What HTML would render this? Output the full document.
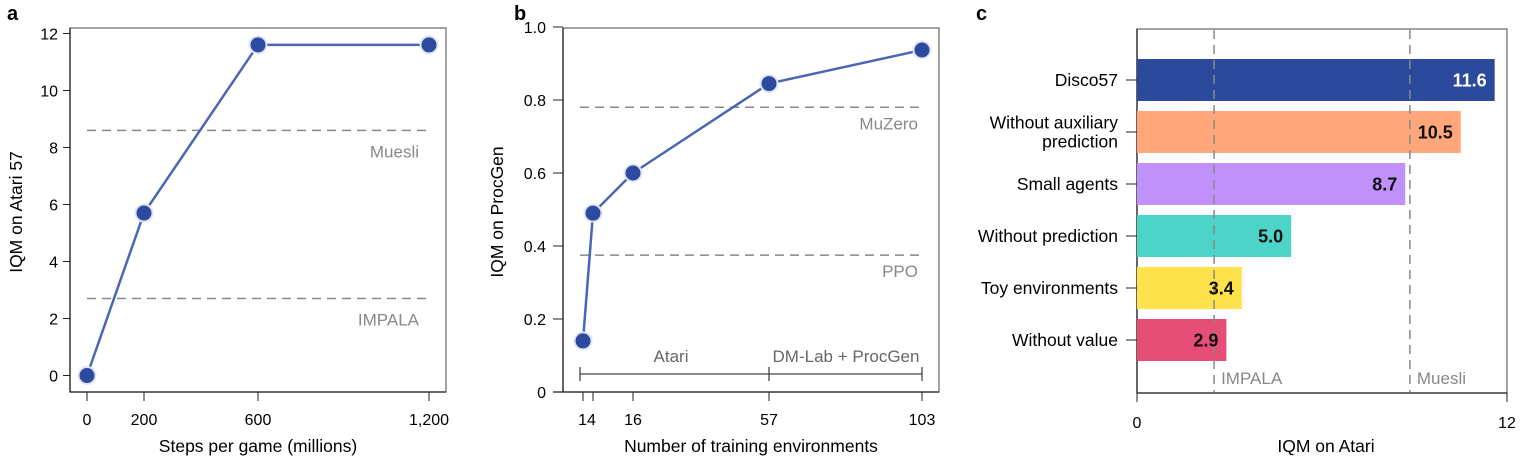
<!DOCTYPE html>
<html><head><meta charset="utf-8"><style>
body{margin:0;background:#fff;}
svg{display:block;font-family:"Liberation Sans",Arial,sans-serif;}
</style></head><body>
<svg id="chart" width="1536" height="464" viewBox="0 0 1536 464"></svg>
<script>
// Panel a data
const aSteps=[0,200,600,1200];
const aIQM=[0,5.7,11.6,11.6];
const aXTicks=[0,200,600,1200];
const aXTickLabels=["0","200","600","1,200"];
const aYTicks=[0,2,4,6,8,10,12];
const aBaselineNames=["Muesli","IMPALA"];
const aBaselineVals=[8.6,2.7];
// Panel b data
const bEnvs=[13.7,14.3,16,57,103];
const bIQM=[0.14,0.49,0.60,0.845,0.937];
const bXTicks=[13.7,14.3,16,57,103];
const bXTickLabels=["","","16","57","103"];
const bYTicks=[0,0.2,0.4,0.6,0.8,1.0];
const bYTickLabels=["0","0.2","0.4","0.6","0.8","1.0"];
const bBaselineNames=["MuZero","PPO"];
const bBaselineVals=[0.78,0.375];
// Panel c data
const cCats=["Disco57","Without auxiliary|prediction","Small agents","Without prediction","Toy environments","Without value"];
const cVals=[11.6,10.5,8.7,5.0,3.4,2.9];
const cColors=["#2c4a9c","#ffa67a","#c091fb","#4dd4c8","#fde24c","#e64e78"];
const cBaselineNames=["IMPALA","Muesli"];
const cBaselineVals=[2.5,8.85];

const NS="http://www.w3.org/2000/svg";
const svg=document.getElementById('chart');
function mk(tag,attrs,parent,text){const e=document.createElementNS(NS,tag);for(const k in attrs)e.setAttribute(k,attrs[k]);if(text!==undefined)e.textContent=text;(parent||svg).appendChild(e);return e;}
const LINE="#4a66b4",DOT="#2c4aa0",GRAY="#888";
const TICK=16, TITLE=17.5, BASE=17;

function frame(x0,y0,x1,y1,name){
  const g=mk('g',{});
  
  
  mk('rect',{x:x0,y:y0,width:x1-x0,height:y1-y0,fill:'none',stroke:'#666','stroke-width':1.2},g);
  mk('line',{x1:x0,y1:y0,x2:x0,y2:y1,stroke:'#222','stroke-width':1.3},g);
  mk('line',{x1:x0,y1:y1,x2:x1,y2:y1,stroke:'#222','stroke-width':1.3},g);
  return g;
}
function letter(x,y,t){const e=mk('text',{x:x,y:y,'font-size':20,'font-weight':'bold',fill:'#000'},svg,t);
  
  }

// ---------- Panel a ----------
letter(7,20,'a');
const ax=v=>87+v*0.285, ay=v=>375.5-v*28.5;
frame(70,28,446,392,'panel-a-frame');
aYTicks.forEach(t=>{mk('line',{x1:63,y1:ay(t),x2:70,y2:ay(t),stroke:'#222'});
  const e=mk('text',{x:58,y:ay(t)+6,'font-size':TICK,'text-anchor':'end'},svg,String(t));
  
  });
aXTicks.forEach((t,i)=>{mk('line',{x1:ax(t),y1:392,x2:ax(t),y2:401,stroke:'#222'});
  const e=mk('text',{x:ax(t),y:425,'font-size':TICK,'text-anchor':'middle'},svg,aXTickLabels[i]);
  
  });
aBaselineVals.forEach((v,i)=>{const l=mk('line',{x1:87,y1:ay(v),x2:427,y2:ay(v),stroke:GRAY,'stroke-width':1.5,'stroke-dasharray':'9,6'});
  
  
  const t=mk('text',{x:419,y:ay(v)+27,'font-size':BASE,'text-anchor':'end',fill:GRAY},svg,aBaselineNames[i]);
  
  });
{const p=mk('polyline',{points:aSteps.map((s,i)=>ax(s)+','+ay(aIQM[i])).join(' '),fill:'none',stroke:LINE,'stroke-width':2.5});
 
 }
aSteps.forEach((s,i)=>{mk('circle',{cx:ax(s),cy:ay(aIQM[i]),r:9.5,fill:'#dfe4f3'});
  const c=mk('circle',{cx:ax(s),cy:ay(aIQM[i]),r:7.5,fill:DOT});
  
  });
{const e=mk('text',{x:258,y:452,'font-size':TITLE,'text-anchor':'middle'},svg,'Steps per game (millions)');
 
 
 const f=mk('text',{x:0,y:0,'font-size':TITLE,'text-anchor':'middle',transform:'translate(22,212) rotate(-90)'},svg,'IQM on Atari 57');
 
 }

// ---------- Panel b ----------
letter(514,20,'b');
const bKnotD=[13.7,14.3,16,57,103], bKnotR=[583,593,633,769,922];
const bx=v=>{for(let i=0;i<bKnotD.length-1;i++){if(v<=bKnotD[i+1]||i===bKnotD.length-2){return bKnotR[i]+(v-bKnotD[i])/(bKnotD[i+1]-bKnotD[i])*(bKnotR[i+1]-bKnotR[i]);}}};
const by=v=>392-v*365;
frame(563,28,939,392,'panel-b-frame');
mk('line',{x1:553,y1:392,x2:563,y2:392,stroke:'#222','stroke-width':1.3});
bYTicks.forEach((t,i)=>{mk('line',{x1:553,y1:by(t),x2:563,y2:by(t),stroke:'#222'});
  const e=mk('text',{x:546,y:by(t)+6,'font-size':TICK,'text-anchor':'end'},svg,bYTickLabels[i]);
  
  });
bXTicks.forEach((t,i)=>{mk('line',{x1:bx(t),y1:392,x2:bx(t),y2:401,stroke:'#222'});
  if(bXTickLabels[i]){const e=mk('text',{x:bx(t),y:425,'font-size':TICK,'text-anchor':'middle'},svg,bXTickLabels[i]);
  
  }});
{const e=mk('text',{x:587,y:425,'font-size':TICK,'text-anchor':'middle'},svg,'14');
 
 }
bBaselineVals.forEach((v,i)=>{const l=mk('line',{x1:580,y1:by(v),x2:921,y2:by(v),stroke:GRAY,'stroke-width':1.5,'stroke-dasharray':'9,6'});
  
  
  const t=mk('text',{x:918,y:by(v)+22,'font-size':BASE,'text-anchor':'end',fill:GRAY},svg,bBaselineNames[i]);
  
  });
{const g=mk('g',{stroke:'#444','stroke-width':1.3});
 
 
 mk('line',{x1:580,y1:374,x2:922,y2:374},g);
 [580,769,922].forEach(x=>mk('line',{x1:x,y1:367,x2:x,y2:381},g));
 const a=mk('text',{x:671,y:362,'font-size':BASE,'text-anchor':'middle',fill:'#666'},svg,'Atari');
 
 
 const d=mk('text',{x:846,y:362,'font-size':BASE,'text-anchor':'middle',fill:'#666'},svg,'DM-Lab + ProcGen');
 
 }
{const p=mk('polyline',{points:bEnvs.map((s,i)=>bx(s)+','+by(bIQM[i])).join(' '),fill:'none',stroke:LINE,'stroke-width':2.5});
 
 }
bEnvs.forEach((s,i)=>{mk('circle',{cx:bx(s),cy:by(bIQM[i]),r:9.5,fill:'#dfe4f3'});
  const c=mk('circle',{cx:bx(s),cy:by(bIQM[i]),r:7.5,fill:DOT});
  
  });
{const e=mk('text',{x:751,y:452,'font-size':TITLE,'text-anchor':'middle'},svg,'Number of training environments');
 
 
 const f=mk('text',{x:0,y:0,'font-size':TITLE,'text-anchor':'middle',transform:'translate(503,212) rotate(-90)'},svg,'IQM on ProcGen');
 
 }

// ---------- Panel c ----------
letter(976,20,'c');
const cx=v=>1137+v*(370/12);
const cy=i=>59+i*52;
const cBarH=42;
frame(1137,29,1507,393,'panel-c-frame');
cVals.forEach((v,i)=>{
  const r=mk('rect',{x:1137,y:cy(i),width:cx(v)-1137,height:cBarH,fill:cColors[i]});
  
  
  mk('line',{x1:1126,y1:cy(i)+cBarH/2,x2:1137,y2:cy(i)+cBarH/2,stroke:'#222'});
  const parts=cCats[i].split('|');
  parts.forEach((p,j)=>{const e=mk('text',{x:1118,y:cy(i)+cBarH/2+6+(j-(parts.length-1)/2)*19,'font-size':TITLE,'text-anchor':'end'},svg,p);
    
    });
});
cBaselineVals.forEach((v,i)=>{const l=mk('line',{x1:cx(v),y1:30,x2:cx(v),y2:392,stroke:GRAY,'stroke-width':1.5,'stroke-dasharray':'9,6'});
  
  
  const t=mk('text',{x:cx(v)+7,y:384,'font-size':BASE,fill:GRAY},svg,cBaselineNames[i]);
  
  });
cVals.forEach((v,i)=>{
  const t=mk('text',{x:cx(v)-8,y:cy(i)+cBarH/2+6.5,'font-size':18,'font-weight':'bold','text-anchor':'end',fill:i===0?'#fff':'#111'},svg,v.toFixed(1));
  
  
});
[0,12].forEach(t=>{mk('line',{x1:cx(t),y1:393,x2:cx(t),y2:402,stroke:'#222'});
  const e=mk('text',{x:cx(t),y:428,'font-size':TICK,'text-anchor':'middle'},svg,String(t));
  
  });
{const e=mk('text',{x:1326,y:452,'font-size':TITLE,'text-anchor':'middle'},svg,'IQM on Atari');
 
 }
</script>
</body></html>
